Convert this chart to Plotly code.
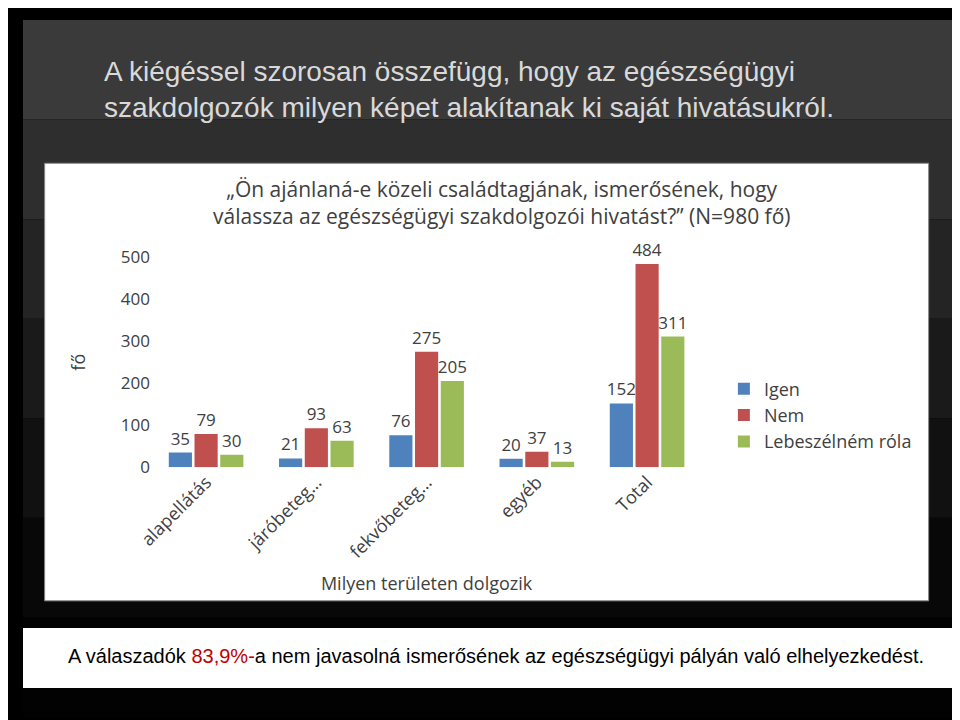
import plotly.graph_objects as go

categories = ["alapellátás", "járóbeteg…", "fekvőbeteg…", "egyéb", "Total"]
igen = [35, 21, 76, 20, 152]
nem = [79, 93, 275, 37, 484]
lebeszel = [30, 63, 205, 13, 311]
series = [("Igen", igen, "#4F81BD"), ("Nem", nem, "#C0504D"), ("Lebeszélném róla", lebeszel, "#9BBB59")]

fig = go.Figure()
for name, vals, col in series:
    fig.add_trace(go.Bar(x=categories, y=vals, name=name, marker=dict(color=col, line=dict(width=0)),
                         text=vals, textposition="outside", cliponaxis=False,
                         textfont=dict(size=17, color="#404040", family="Open Sans")))

shapes = []
# dark gradient background
steps = ["#3a3a3a", "#2e2e2e", "#242424", "#1a1a1a", "#111111", "#080808", "#020202"]
n = len(steps)
for i, c in enumerate(steps):
    shapes.append(dict(type="rect", xref="paper", yref="paper", x0=0, x1=1,
                       y0=1 - (i + 1) / n, y1=1 - i / n,
                       fillcolor=c, line=dict(width=0), layer="below"))
shapes.append(dict(type="rect", xref="paper", yref="paper", x0=22/960, x1=920/960, y0=1-600/720, y1=1-148/720,
                   fillcolor="white", line=dict(color="#888", width=1), layer="below"))
shapes.append(dict(type="rect", xref="paper", yref="paper", x0=0, x1=1, y0=1-690/720, y1=1-628/720,
                   fillcolor="white", line=dict(width=0), layer="below"))

fig.update_layout(
    width=960, height=720, margin=dict(l=0, r=0, t=0, b=0),
    paper_bgcolor="black", plot_bgcolor="white", shapes=shapes,
    barmode="group", bargap=0.3, bargroupgap=0.1,
    uniformtext=dict(minsize=17, mode="show"),
    font=dict(family="Open Sans", color="#404040"),
    xaxis=dict(domain=[130/960, 690/960], tickangle=-45, tickfont=dict(size=18), showline=False,
               title=dict(text="Milyen területen dolgozik", font=dict(size=18)), anchor="y"),
    yaxis=dict(domain=[1-462/720, 1-245/720], range=[0, 500], dtick=100, showgrid=False, zeroline=False,
               tickfont=dict(size=17), title=dict(text="fő", font=dict(size=18), standoff=30)),
    legend=dict(x=712/960, y=1-362/720, xanchor="left", yanchor="top", font=dict(size=18),
                bgcolor="rgba(0,0,0,0)", tracegroupgap=6),
    showlegend=True,
    annotations=[
        dict(text="A kiégéssel szorosan összefügg, hogy az egészségügyi<br>szakdolgozók milyen képet alakítanak ki saját hivatásukról.",
             x=80/960, y=1-72/720, xref="paper", yref="paper", showarrow=False,
             xanchor="left", yanchor="middle", align="left",
             font=dict(family="Liberation Sans", size=28, color="#d9d9d9")),
        dict(text="„Ön ajánlaná-e közeli családtagjának, ismerősének, hogy<br>válassza az egészségügyi szakdolgozói hivatást?” (N=980 fő)",
             x=487/960, y=1-189/720, xref="paper", yref="paper", showarrow=False,
             xanchor="center", yanchor="middle",
             font=dict(size=21, color="#404040")),
        dict(text="A válaszadók <span style='color:#c00000'>83,9%-</span>a nem javasolná ismerősének az egészségügyi pályán való elhelyezkedést.",
             x=0.5, y=1-657/720, xref="paper", yref="paper", showarrow=False,
             xanchor="center", yanchor="middle",
             font=dict(family="Liberation Sans", size=20, color="black")),
    ],
)
fig.write_html("out.html")
